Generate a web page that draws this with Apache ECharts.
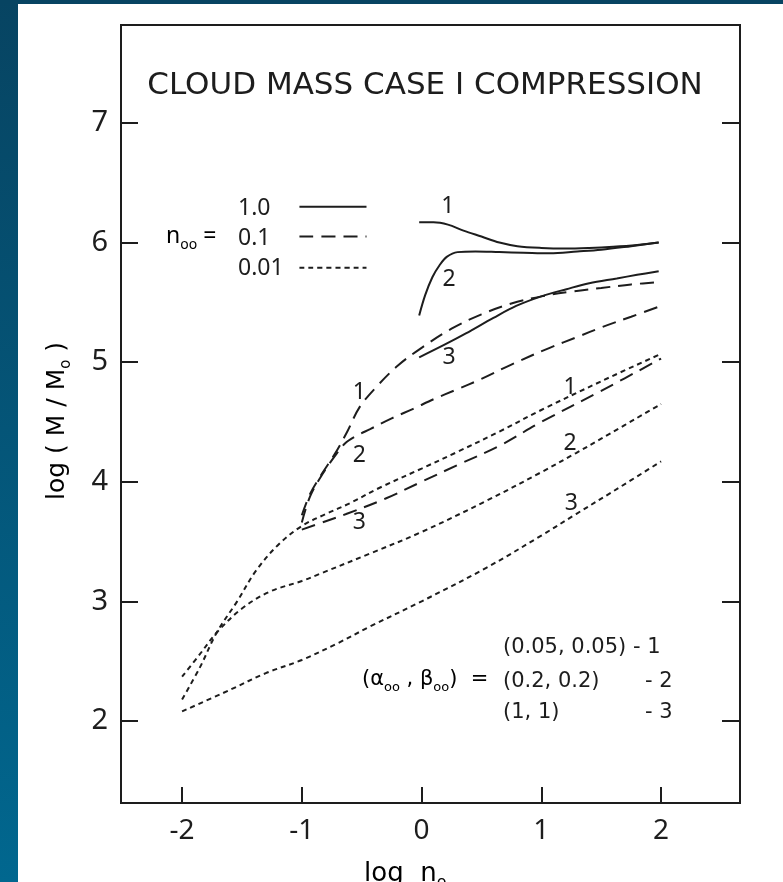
<!DOCTYPE html>
<html lang="en">
<head>
    <meta charset="UTF-8">
    <title>Cloud Mass Case I Compression</title>
    <script src="https://cdn.jsdelivr.net/npm/echarts@6/dist/echarts.min.js"></script>
    <style>
        body {
            margin: 0;
            padding: 0;
            background: #fff;
        }
        .page {
            position: relative;
            width: 783px;
            height: 882px;
            overflow: hidden;
            background: #fff;
        }
        .strip-left {
            position: absolute;
            left: 0;
            top: 0;
            width: 18px;
            height: 882px;
            background: linear-gradient(#074462, #01678f);
        }
        .strip-top {
            position: absolute;
            left: 0;
            top: 0;
            width: 783px;
            height: 4px;
            background: #074462;
        }
        #chart {
            position: absolute;
            left: 0;
            top: 0;
            width: 783px;
            height: 882px;
        }
    </style>
</head>
<body>
    <div class="page">
        <div class="strip-left"></div>
        <div class="strip-top"></div>
        <div id="chart"></div>
    </div>

    <script>
        // ticks
        const xTicks = [-2, -1, 0, 1, 2];
        const yTicks = [2, 3, 4, 5, 6, 7];

        // n00 = 1.0 (solid)
        const solid1 = [[-0.02, 6.17], [0.1, 6.17], [0.22, 6.15], [0.35, 6.1], [0.5, 6.05], [0.65, 6.0], [0.8, 5.97], [1.0, 5.955], [1.2, 5.95], [1.4, 5.955], [1.6, 5.965], [1.8, 5.98], [1.98, 6.0]];
        const solid2 = [[-0.02, 5.39], [0.03, 5.56], [0.09, 5.71], [0.15, 5.81], [0.21, 5.88], [0.3, 5.92], [0.45, 5.925], [0.65, 5.92], [0.85, 5.915], [1.07, 5.91], [1.3, 5.925], [1.5, 5.94], [1.75, 5.97], [1.98, 6.0]];
        const solid3 = [[-0.02, 5.04], [0.2, 5.15], [0.37, 5.24], [0.6, 5.37], [0.79, 5.47], [1.0, 5.55], [1.21, 5.61], [1.4, 5.66], [1.63, 5.7], [1.8, 5.73], [1.98, 5.76]];

        // n00 = 0.1 (long dash)
        const dashed1 = [[-1, 3.72], [-0.93, 3.9], [-0.83, 4.07], [-0.72, 4.24], [-0.62, 4.42], [-0.52, 4.62], [-0.38, 4.79], [-0.2, 4.97], [0, 5.12], [0.25, 5.28], [0.5, 5.4], [0.75, 5.49], [1, 5.55], [1.25, 5.59], [1.5, 5.62], [1.75, 5.65], [2, 5.67]];
        const dashed2 = [[-1, 3.66], [-0.93, 3.88], [-0.83, 4.06], [-0.72, 4.22], [-0.64, 4.32], [-0.55, 4.38], [-0.43, 4.44], [-0.25, 4.53], [-0.07, 4.61], [0.1, 4.69], [0.29, 4.77], [0.5, 4.86], [0.75, 4.98], [1.07, 5.12], [1.3, 5.21], [1.5, 5.29], [1.75, 5.38], [2, 5.47]];
        const dashed3 = [[-1, 3.6], [-0.8, 3.67], [-0.63, 3.73], [-0.3, 3.86], [0, 4.0], [0.3, 4.14], [0.65, 4.3], [1, 4.5], [1.5, 4.76], [2, 5.03]];

        // n00 = 0.01 (short dash)
        const dotted1 = [[-2, 2.18], [-1.85, 2.45], [-1.71, 2.74], [-1.54, 3.0], [-1.38, 3.26], [-1.19, 3.48], [-1.0, 3.63], [-0.8, 3.73], [-0.6, 3.82], [-0.35, 3.95], [0, 4.11], [0.3, 4.25], [0.65, 4.42], [1, 4.6], [1.5, 4.84], [2, 5.07]];
        const dotted2 = [[-2, 2.37], [-1.85, 2.56], [-1.71, 2.74], [-1.5, 2.94], [-1.27, 3.08], [-1.0, 3.17], [-0.85, 3.23], [-0.43, 3.4], [0, 3.58], [0.54, 3.84], [1, 4.08], [1.29, 4.24], [1.5, 4.36], [2, 4.65]];
        const dotted3 = [[-2, 2.08], [-1.6, 2.26], [-1.3, 2.4], [-1.0, 2.51], [-0.7, 2.65], [-0.43, 2.79], [0, 3.0], [0.54, 3.28], [1.0, 3.55], [1.29, 3.73], [1.6, 3.92], [2, 4.17]];

        // legend samples
        const keySolid = [[-1.02, 6.3], [-0.46, 6.3]];
        const keyDash = [[-1.02, 6.05], [-0.46, 6.05]];
        const keyDot = [[-1.02, 5.79], [-0.46, 5.79]];

        // curve number labels
        const tagX = [0.22, 0.23, 0.23, -0.52, -0.52, -0.52, 1.24, 1.24, 1.25];
        const tagY = [6.3, 5.69, 5.04, 4.75, 4.22, 3.66, 4.79, 4.32, 3.82];
        const tagText = ['1', '2', '3', '1', '2', '3', '1', '2', '3'];

        const ink = '#1d1d1d';
        const font = '"Noto Sans", sans-serif';
        const wide = '"DejaVu Sans", sans-serif';
        const longDash = [14, 8];
        const shortDash = [5, 4];

        function curve(data, type) {
            return {
                type: 'line',
                data: data,
                smooth: 0.35,
                showSymbol: false,
                symbol: 'none',
                lineStyle: { color: ink, width: 2, type: type },
                silent: true
            };
        }

        function subText(size, family) {
            return {
                m: { fontSize: size, fontFamily: family, lineHeight: size + 4, verticalAlign: 'top', color: ink },
                s: { fontSize: Math.round(size * 0.6), fontFamily: family, lineHeight: 10, verticalAlign: 'bottom', color: ink }
            };
        }

        const chart = echarts.init(document.getElementById('chart'), null, { renderer: 'canvas' });

        const option = {
            animation: false,
            backgroundColor: 'transparent',
            grid: {
                show: true,
                left: 121,
                top: 25,
                width: 619,
                height: 778,
                borderColor: ink,
                borderWidth: 2,
                backgroundColor: 'transparent'
            },
            xAxis: {
                type: 'value',
                min: -2.51,
                max: 2.659,
                axisLine: { show: false, onZero: false },
                axisTick: { show: true, inside: true, length: 16, customValues: xTicks, lineStyle: { color: ink, width: 2 } },
                axisLabel: { customValues: xTicks, fontSize: 28, fontFamily: font, color: ink, margin: 14 },
                splitLine: { show: false }
            },
            yAxis: [{
                type: 'value',
                min: 1.314,
                max: 7.819,
                axisLine: { show: false, onZero: false },
                axisTick: { show: true, inside: true, length: 17, customValues: yTicks, lineStyle: { color: ink, width: 2 } },
                axisLabel: { customValues: yTicks, fontSize: 29, fontFamily: font, color: ink, margin: 13 },
                splitLine: { show: false }
            }, {
                type: 'value',
                position: 'right',
                min: 1.314,
                max: 7.819,
                axisLine: { show: false, onZero: false },
                axisTick: { show: true, inside: true, length: 18, customValues: yTicks, lineStyle: { color: ink, width: 2 } },
                axisLabel: { show: false },
                splitLine: { show: false }
            }],
            series: [
                curve(solid1, 'solid'),
                curve(solid2, 'solid'),
                curve(solid3, 'solid'),
                curve(dashed1, longDash),
                curve(dashed2, longDash),
                curve(dashed3, longDash),
                curve(dotted1, shortDash),
                curve(dotted2, shortDash),
                curve(dotted3, shortDash),
                curve(keySolid, 'solid'),
                curve(keyDash, longDash),
                curve(keyDot, shortDash),
                {
                    type: 'scatter',
                    symbolSize: 1,
                    itemStyle: { color: '#fff', opacity: 1 },
                    silent: true,
                    data: tagX.map((x, i) => ({ value: [x, tagY[i]], name: tagText[i] })),
                    label: {
                        show: true,
                        position: 'inside',
                        formatter: '{b}',
                        fontSize: 23,
                        fontFamily: font,
                        color: ink,
                        opacity: 1,
                        textBorderWidth: 0
                    },
                    z: 5
                }
            ],
            graphic: [
                {
                    type: 'text', x: 425, y: 86,
                    style: { text: 'CLOUD MASS CASE I COMPRESSION', font: '31px ' + wide, fill: ink, textAlign: 'center', textVerticalAlign: 'middle' }
                },
                // n00 key
                { type: 'text', x: 238, y: 208, style: { text: '1.0', font: '23px ' + font, fill: ink, textVerticalAlign: 'middle' } },
                { type: 'text', x: 238, y: 238, style: { text: '0.1', font: '23px ' + font, fill: ink, textVerticalAlign: 'middle' } },
                { type: 'text', x: 238, y: 268, style: { text: '0.01', font: '23px ' + font, fill: ink, textVerticalAlign: 'middle' } },
                {
                    type: 'text', x: 166, y: 225,
                    style: { text: '{m|n}{s|oo}{m| =}', rich: subText(23, font) }
                },
                // alpha/beta key
                { type: 'text', x: 503, y: 648, style: { text: '(0.05, 0.05) - 1', font: '21px ' + wide, fill: ink, textVerticalAlign: 'middle' } },
                {
                    type: 'text', x: 362, y: 669,
                    style: { text: '{m|(α}{s|oo}{m| , β}{s|oo}{m|)  =}', rich: subText(21, wide) }
                },
                { type: 'text', x: 503, y: 682, style: { text: '(0.2, 0.2)', font: '21px ' + wide, fill: ink, textVerticalAlign: 'middle' } },
                { type: 'text', x: 645, y: 682, style: { text: '- 2', font: '21px ' + wide, fill: ink, textVerticalAlign: 'middle' } },
                { type: 'text', x: 503, y: 713, style: { text: '(1, 1)', font: '21px ' + wide, fill: ink, textVerticalAlign: 'middle' } },
                { type: 'text', x: 645, y: 713, style: { text: '- 3', font: '21px ' + wide, fill: ink, textVerticalAlign: 'middle' } },
                // axis names
                {
                    type: 'text', x: 45, y: 500, rotation: Math.PI / 2,
                    style: { text: '{m|log ( M / M}{s|o}{m| )}', rich: subText(25, wide) }
                },
                {
                    type: 'text', x: 364, y: 861,
                    style: { text: '{m|log  n}{s|o}', rich: subText(26, wide) }
                }
            ]
        };

        chart.setOption(option);
    </script>
</body>
</html>
